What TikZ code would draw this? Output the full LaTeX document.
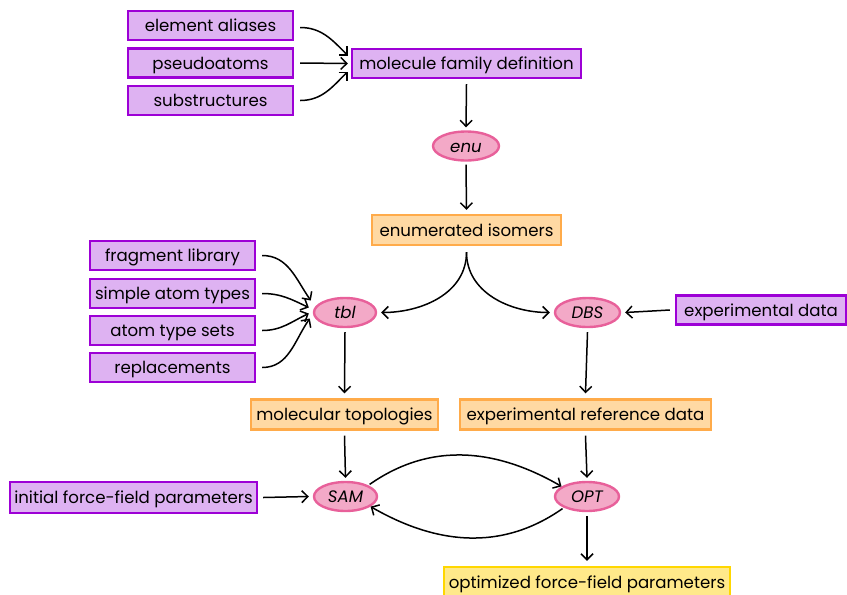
\documentclass[tikz,border=0pt]{standalone}
\usepackage{fontspec}
\setmainfont{Poppins}
\usetikzlibrary{arrows.meta,shapes.geometric}
\definecolor{inpfill}{HTML}{DEB2F2}
\definecolor{inpdraw}{HTML}{9D00D6}
\definecolor{midfill}{HTML}{FFD9A3}
\definecolor{middraw}{HTML}{FFAB4A}
\definecolor{opfill}{HTML}{F3A9C7}
\definecolor{opdraw}{HTML}{E8609A}
\definecolor{outfill}{HTML}{FFE98A}
\definecolor{outdraw}{HTML}{FFD700}
\tikzset{
  base/.style={font=\fontsize{16.6}{18}\selectfont, inner sep=0pt, line width=2.4pt,
    text height=13pt, text depth=0.5pt},
  inbox/.style={base, rectangle, fill=inpfill, draw=inpdraw, minimum height=29pt},
  midbox/.style={base, rectangle, fill=midfill, draw=middraw, minimum height=30pt},
  outbox/.style={base, rectangle, fill=outfill, draw=outdraw, minimum height=30pt},
  opnode/.style={base, ellipse, fill=opfill, draw=opdraw, minimum height=29pt, font=\fontsize{16.6}{18}\selectfont\itshape},
  conn/.style={line width=1.5pt, -{Straight Barb[length=6pt,width=12pt,line width=1.5pt]}},
}
\begin{document}
\begin{tikzpicture}[x=1pt,y=-1pt]
\useasboundingbox (0,0) rectangle (847,595);
% input definitions
\node[inbox, minimum width=165pt] (alias) at (210.5,25.5) {element aliases};
\node[inbox, minimum width=165pt] (pseudo) at (210.5,63) {pseudoatoms};
\node[inbox, minimum width=165pt] (subst) at (210.5,100.5) {substructures};
\node[inbox, minimum width=229pt] (family) at (466.5,63.5) {molecule family definition};
\node[opnode, minimum width=66pt] (enu) at (466,146) {enu};
\node[midbox, minimum width=189pt] (isomers) at (466.5,230) {enumerated isomers};
% typing inputs
\node[inbox, minimum width=165pt] (frag) at (172.5,255.5) {fragment library};
\node[inbox, minimum width=165pt] (simple) at (172.5,293.5) {simple atom types};
\node[inbox, minimum width=165pt] (sets) at (172.5,330.5) {atom type sets};
\node[inbox, minimum width=165pt] (repl) at (172.5,367.5) {replacements};
\node[opnode, minimum width=62pt] (tbl) at (345,312.5) {tbl};
\node[opnode, minimum width=65pt] (dbs) at (587.5,312.5) {DBS};
\node[inbox, minimum width=170pt] (expdata) at (761,310) {experimental data};
\node[midbox, minimum width=187pt] (topo) at (344.5,414.5) {molecular topologies};
\node[midbox, minimum width=251pt] (expref) at (585.5,414.5) {experimental reference data};
% optimisation loop
\node[opnode, minimum width=63pt] (sam) at (345.5,496.5) {SAM};
\node[opnode, minimum width=64pt] (opt) at (587,496.5) {OPT};
\node[inbox, minimum width=247pt, minimum height=31pt] (init) at (133.5,497.5) {initial force-field parameters};
\node[outbox, minimum width=286pt] (final) at (587,582) {optimized force-field parameters};
% connectors
\draw[conn] ([xshift=6pt,yshift=-2pt]alias.east) to[out=0,in=135] ([xshift=-3pt,yshift=8pt]family.west);
\draw[conn] ([xshift=6pt]pseudo.east) -- ([xshift=-3pt]family.west);
\draw[conn] ([xshift=6pt]subst.east) to[out=0,in=-135] ([xshift=-3pt,yshift=-8pt]family.west);
\draw[conn] ([yshift=-5pt]family.south) -- ([yshift=3pt]enu.north);
\draw[conn] ([yshift=-3pt]enu.south) -- ([yshift=4pt]isomers.north);
\draw[conn] ([yshift=-6pt]isomers.south) to[out=-90,in=0] ([xshift=4pt]tbl.east);
\draw[conn] ([yshift=-6pt]isomers.south) to[out=-90,in=180] ([xshift=-4pt]dbs.west);
\draw[conn] ([xshift=-5pt]expdata.west) -- ([xshift=4pt]dbs.east);
\draw[conn] ([xshift=6pt]frag.east) to[out=0,in=125] ([xshift=-2pt,yshift=12pt]tbl.west);
\draw[conn] ([xshift=6pt]simple.east) to[out=0,in=155] ([xshift=-4pt,yshift=5pt]tbl.west);
\draw[conn] ([xshift=6pt]sets.east) to[out=0,in=-155] ([xshift=-4pt,yshift=-1pt]tbl.west);
\draw[conn] ([xshift=6pt]repl.east) to[out=0,in=-125] ([xshift=-3pt,yshift=-6pt]tbl.west);
\draw[conn] ([yshift=-4pt]tbl.south) -- ([yshift=5pt]topo.north);
\draw[conn] ([yshift=-4pt]dbs.south) -- ([yshift=5pt]expref.north);
\draw[conn] ([yshift=-5pt]topo.south) -- ([yshift=3pt]sam.north);
\draw[conn] ([yshift=-5pt]expref.south) -- ([yshift=3pt]opt.north);
\draw[conn] ([xshift=5pt]init.east) -- ([xshift=-4pt]sam.west);
\draw[conn] ([xshift=1pt,yshift=1pt]sam.north east) to[out=35,in=150] ([xshift=-2pt,yshift=-1pt]opt.north west);
\draw[conn] ([xshift=-1pt,yshift=-1pt]opt.south west) to[out=-145,in=-30] ([xshift=2pt,yshift=1pt]sam.south east);
\draw[conn] ([yshift=-4pt]opt.south) -- ([yshift=5pt]final.north);
\end{tikzpicture}
\end{document}
